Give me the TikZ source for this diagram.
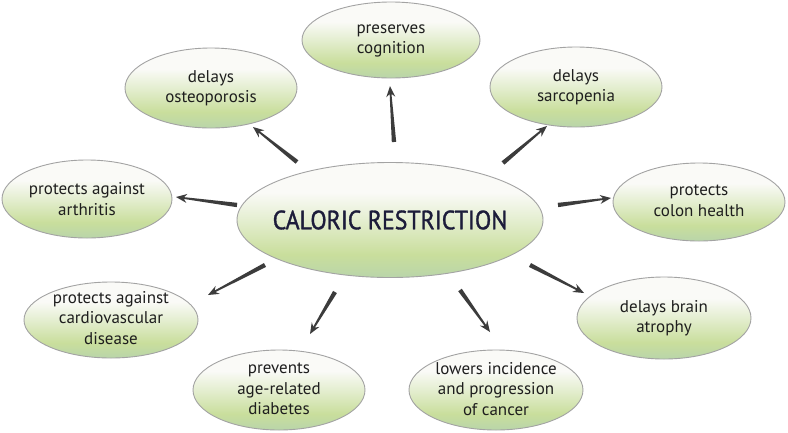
\documentclass[tikz,border=0pt]{standalone}
\usepackage{fontspec}
\setmainfont{PT Sans}
\newfontfamily\ctrfont[FakeStretch=0.9,FakeBold=1.2]{PT Sans}
\usetikzlibrary{shapes.geometric,calc}
\definecolor{gbot}{HTML}{B9D5AA}
\definecolor{ggreen}{HTML}{C9DE9C}
\definecolor{gmid}{HTML}{E4EED0}
\definecolor{gtop}{HTML}{FAFAF7}
\definecolor{edgecol}{HTML}{A3A3A3}
\definecolor{arrcol}{HTML}{3C3C3C}
\definecolor{navy}{HTML}{1C1C3A}
\definecolor{txt}{HTML}{1E1E1E}
\pgfdeclareverticalshading{ellgrad}{100bp}{color(0bp)=(gbot); color(25bp)=(gbot); color(35bp)=(ggreen); color(50bp)=(gmid); color(62bp)=(gtop); color(75bp)=(gtop); color(100bp)=(gtop)}
\tikzset{
  bubble/.style={ellipse, draw=edgecol, line width=0.9pt, shading=ellgrad, inner sep=0pt},
  label/.style={align=center, text=txt, inner sep=0pt, font=\fontsize{17}{20.5}\selectfont},
  clabel/.style={align=center, text=navy, inner sep=0pt, font=\ctrfont\fontsize{26.5}{30}\selectfont},
}
\newcommand{\taparrow}[2]{%
  \fill[arrcol] ($(#1)!2.2pt!-90:(#2)$) -- ($($(#2)!8pt!(#1)$)!0.9pt!90:(#1)$) -- ($($(#2)!11pt!(#1)$)!4.5pt!90:(#1)$) -- (#2) -- ($($(#2)!11pt!(#1)$)!4.5pt!-90:(#1)$) -- ($($(#2)!8pt!(#1)$)!0.9pt!-90:(#1)$) -- ($(#1)!2.2pt!90:(#2)$) -- cycle;}
\begin{document}
\begin{tikzpicture}[x=1pt,y=-1pt]
\fill[white] (0,0) rectangle (788,432);
\useasboundingbox (0,0) rectangle (788,432);
\node[bubble, minimum width=306pt, minimum height=115pt] (c) at (390,220) {};
\node[clabel] (ct) at (c.center) {CALORIC RESTRICTION};
\node[bubble, minimum width=178pt, minimum height=76pt] (cog) at (391,40) {};
\node[label] (cogt) at (391,41) {preserves\\cognition};
\node[bubble, minimum width=172pt, minimum height=80pt] (ost) at (211,88) {};
\node[label] (ostt) at (211,88) {delays\\osteoporosis};
\node[bubble, minimum width=172pt, minimum height=80pt] (sar) at (576,87) {};
\node[label] (sart) at (576,87) {delays\\sarcopenia};
\node[bubble, minimum width=170pt, minimum height=78pt] (art) at (87,199) {};
\node[label] (artt) at (87,199) {protects against\\arthritis};
\node[bubble, minimum width=172pt, minimum height=78pt] (col) at (699,202) {};
\node[label] (colt) at (699,201) {protects\\colon health};
\node[bubble, minimum width=174pt, minimum height=76pt] (car) at (111,320) {};
\node[label] (cart) at (111,318) {protects against\\cardiovascular\\disease};
\node[bubble, minimum width=174pt, minimum height=82pt] (bra) at (664,318) {};
\node[label] (brat) at (664,318) {delays brain\\atrophy};
\node[bubble, minimum width=172pt, minimum height=80pt] (dia) at (279,390) {};
\node[label] (diat) at (279,389) {prevents\\age-related\\diabetes};
\node[bubble, minimum width=174pt, minimum height=80pt] (can) at (496,390) {};
\node[label] (cant) at (496,389) {lowers incidence\\and progression\\of cancer};
\coordinate (t1) at (394,142); \coordinate (h1) at (390,86);
\coordinate (t2) at (297,162); \coordinate (h2) at (253,127);
\coordinate (t3) at (503,163); \coordinate (h3) at (547,126);
\coordinate (t4) at (237,205); \coordinate (h4) at (176,197);
\coordinate (t5) at (558,205); \coordinate (h5) at (611,198);
\coordinate (t6) at (265,265); \coordinate (h6) at (208,295);
\coordinate (t7) at (530,265); \coordinate (h7) at (584,293);
\coordinate (t8) at (335,292); \coordinate (h8) at (310,334);
\coordinate (t9) at (460,290); \coordinate (h9) at (490,332);
\taparrow{t1}{h1}
\taparrow{t2}{h2}
\taparrow{t3}{h3}
\taparrow{t4}{h4}
\taparrow{t5}{h5}
\taparrow{t6}{h6}
\taparrow{t7}{h7}
\taparrow{t8}{h8}
\taparrow{t9}{h9}
\end{tikzpicture}
\end{document}
